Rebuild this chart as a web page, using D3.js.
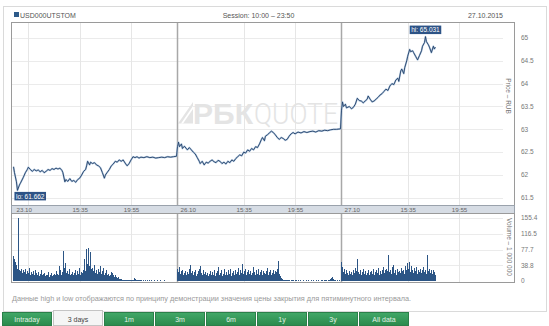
<!DOCTYPE html>
<html><head><meta charset="utf-8">
<script src="https://cdn.jsdelivr.net/npm/d3@7"></script>
<style>
html,body{margin:0;padding:0;background:#fff;}
svg{display:block;font-family:"Liberation Sans",Arial,sans-serif;}
</style></head><body>
<svg id="chart" width="549" height="326"></svg>
<script>
// Trading sessions (10:00 – 23:50 each)
const sessionDays = ["23.10", "26.10", "27.10"];
const gridTimes = [[0, "11:15"], [0, "15:35"], [0, "19:55"], [1, "15:35"], [1, "19:55"], [2, "15:35"], [2, "19:55"]];
const axisTimeLabels = ["15:35", "19:55"];
const priceTicks = [61.5, 62, 62.5, 63, 63.5, 64, 64.5, 65];
const volumeTicks = [0, 38.8, 77.7, 116.5, 155.4];
const tabs = ["Intraday", "3 days", "1m", "3m", "6m", "1y", "3y", "All data"];
const activeTab = "3 days";

// USD/RUB close price, 23.10
const price2310 = [
  ["10:00",62.18],["10:05",62.05],["10:15",61.85],["10:20",61.662],["10:30",61.78],["10:35",61.82],
  ["10:50",61.95],["11:00",62.05],["11:10",62.12],["11:15",62.17],["11:25",62.12],["11:35",62.08],
  ["11:45",62.12],["11:55",62.09],["12:05",62.11],["12:15",62.07],["12:25",62.10],["12:35",62.05],
  ["12:45",62.08],["12:55",62.12],["13:05",62.10],["13:15",62.14],["13:25",62.12],["13:35",62.15],
  ["13:45",62.13],["13:55",62.15],["14:05",62.10],["14:10",62.05],["14:20",61.85],["14:25",61.90],
  ["14:35",61.86],["14:45",61.92],["14:55",61.86],["15:05",61.88],["15:15",61.84],["15:25",61.90],
  ["15:35",61.93],["15:45",62.00],["15:55",62.08],["16:05",62.12],["16:10",62.20],["16:15",62.30],
  ["16:25",62.22],["16:30",62.28],["16:40",62.25],["16:50",62.27],["17:00",62.22],["17:10",62.20],
  ["17:20",62.16],["17:30",62.05],["17:40",61.93],["17:45",62.00],["17:55",62.06],["18:05",62.12],
  ["18:15",62.20],["18:25",62.24],["18:35",62.30],["18:45",62.28],["18:55",62.33],["19:05",62.30],
  ["19:15",62.33],["19:25",62.26],["19:35",62.20],["19:45",62.25],["19:55",62.33],["20:05",62.40],
  ["20:15",62.38],["20:25",62.40],["20:35",62.37],["20:45",62.39],["21:00",62.38],["21:15",62.40],
  ["21:30",62.38],["21:45",62.39],["22:00",62.37],["22:15",62.38],["22:30",62.39],["22:45",62.38],
  ["23:00",62.40],["23:15",62.39],["23:30",62.40],["23:45",62.41]
];
// 26.10
const price2610 = [
  ["10:00",62.62],["10:05",62.72],["10:10",62.62],["10:20",62.68],["10:25",62.58],["10:35",62.63],
  ["10:50",62.55],["11:00",62.60],["11:10",62.55],["11:20",62.50],["11:30",62.46],["11:40",62.38],
  ["11:50",62.30],["11:55",62.25],["12:05",62.30],["12:15",62.22],["12:25",62.28],["12:35",62.26],
  ["12:45",62.30],["12:55",62.33],["13:05",62.29],["13:15",62.27],["13:25",62.32],["13:35",62.30],
  ["13:45",62.25],["13:55",62.28],["14:05",62.24],["14:15",62.30],["14:25",62.27],["14:35",62.33],
  ["14:45",62.30],["14:55",62.36],["15:05",62.40],["15:15",62.44],["15:25",62.42],["15:35",62.50],
  ["15:45",62.48],["15:55",62.55],["16:05",62.52],["16:15",62.58],["16:25",62.55],["16:35",62.62],
  ["16:45",62.60],["16:55",62.68],["17:05",62.78],["17:10",62.82],["17:20",62.75],["17:25",62.85],
  ["17:35",62.88],["17:45",62.92],["17:55",62.96],["18:05",62.93],["18:15",62.88],["18:25",62.82],
  ["18:35",62.78],["18:45",62.82],["18:55",62.80],["19:05",62.76],["19:15",62.78],["19:25",62.85],
  ["19:35",62.90],["19:45",62.93],["19:55",62.90],["20:10",62.94],["20:25",62.92],["20:40",62.95],
  ["20:55",62.93],["21:10",62.95],["21:25",62.96],["21:40",62.94],["21:55",62.97],["22:10",62.96],
  ["22:25",62.98],["22:40",62.97],["22:55",62.99],["23:10",63.00],["23:25",63.00],["23:45",63.01]
];
// 27.10
const price2710 = [
  ["10:00",63.42],["10:05",63.60],["10:10",63.50],["10:20",63.55],["10:25",63.47],["10:40",63.50],
  ["10:50",63.45],["11:00",63.48],["11:10",63.55],["11:20",63.68],["11:30",63.63],["11:40",63.62],
  ["11:50",63.58],["12:00",63.62],["12:10",63.66],["12:15",63.73],["12:25",63.66],["12:35",63.60],
  ["12:45",63.62],["12:55",63.66],["13:05",63.70],["13:15",63.75],["13:25",63.78],["13:35",63.83],
  ["13:45",63.88],["13:55",63.85],["14:05",63.95],["14:15",64.00],["14:25",63.98],["14:35",64.08],
  ["14:45",64.12],["14:50",64.05],["15:00",64.28],["15:05",64.32],["15:15",64.22],["15:20",64.35],
  ["15:30",64.50],["15:35",64.60],["15:45",64.75],["15:50",64.70],["16:00",64.72],["16:05",64.68],
  ["16:15",64.60],["16:25",64.52],["16:35",64.62],["16:45",64.72],["16:50",64.82],["17:00",64.90],
  ["17:05",65.031],["17:10",64.92],["17:20",64.85],["17:25",64.80],["17:35",64.68],["17:45",64.82],
  ["17:50",64.76],["17:55",64.80]
];

// Five-minute volumes, millions USD, from 10:00 of each session
const volume2310 = [
  62,55,48,40,30,155.4,28,24,30,20, 26,22,30,17,24,20,33,16,22,18,
  24,14,28,20,16,22,12,18,26,14, 17,20,12,16,14,22,11,15,19,13,
  16,12,18,14,24,17,14,38,27,16, 22,74,32,45,20,24,17,30,14,18,
  22,16,20,27,14,24,18,32,16,22, 20,27,55,24,78,42,81,37,72,30,
  32,24,40,20,27,17,30,22,36,18, 24,32,16,20,27,14,18,12,16,22,
  20,14,10,15,9,7,11,5,4,6, 2.5,3.5,2,2.5,1.5,2.5,2,1.5,2.5,1.5,
  1.5,2.5,8,5,2.5,1.5,2,1.5,2.5,1.5, 1.5,1,1.5,1.2,1.5,1,1.5,1.1,2,1,
  1.5,1,1.2,1.5,1,1.1,1.5,1,1.2,1.5, 1,1.2,1,1.5,1,1.1,1,1.2,1,1,
  1.1,1,1.2,1,1,1
];
const volume2610 = [
  30,22,35,18,25,28,15,20,24,16, 22,18,30,40,20,25,15,22,28,12,
  18,24,30,36,20,14,26,18,22,15, 20,12,18,25,14,22,16,28,12,20,
  25,34,18,14,20,26,12,18,30,15, 22,14,26,18,30,12,20,24,16,28,
  18,22,32,15,26,20,43,18,24,30, 14,22,28,18,25,16,20,34,22,15,
  26,18,30,14,22,28,16,24,20,18, 25,32,16,22,28,14,20,26,18,24,
  22,30,50,18,12,8,4,3,2,3, 2,1.5,2,3,1,2,1.5,2,1,2,
  1.5,1,2,1,1.5,2,1,1,1.5,1, 1,2,1,1.5,1,1,2,1,1.5,1,
  1,1.5,1,2,1,1,1.5,3,1,2, 1.5,2,1,3,2,4,8,11,5,2,
  1.5,1,2,1,1.5,1
];
const volume2710 = [
  48,35,22,30,18,26,20,15,24,18, 22,16,28,20,32,25,55,22,18,26,
  15,22,30,18,24,14,20,28,16,22, 25,18,30,14,22,26,20,32,16,24,
  18,28,22,35,20,26,30,24,63,22, 28,18,34,40,20,26,16,30,22,25,
  20,32,24,28,18,36,26,45,30,48, 22,38,28,20,32,24,35,18,28,22,
  30,20,26,34,22,28,18,64,24,30, 20,26,18,28,22,16
];

const priceByDay = [price2310, price2610, price2710];
const volumeByDay = [volume2310, volume2610, volume2710];

const svg = d3.select("#chart");
const SESSION_MIN = 830; // 10:00 .. 23:50
const toMin = t => { const [h, m] = t.split(":").map(Number); return (h - 10) * 60 + m; };

const frame = { left: 11.5, right: 514.5, top: 22.5, bottom: 205.5 };
const band = { top: 205.5, bottom: 213.5 };
const vol = { top: 213.5, bottom: 282.5 };
const gridRight = 503;

const x = d3.scaleLinear().domain([0, SESSION_MIN * 3]).range([13.5, 505.5]);
const y = d3.scaleLinear().domain([61.5, 65]).range([197.8, 38]);
const yv = d3.scaleLinear().domain([0, 155.4]).range([281, 218]);

// Outer container
svg.append("rect").attr("x", 3.5).attr("y", 6.5).attr("width", 543).attr("height", 305)
  .attr("fill", "#fff").attr("stroke", "#dadada");

// Header
svg.append("rect").attr("x", 14).attr("y", 12).attr("width", 5).attr("height", 5).attr("fill", "#2d5a8a");
svg.append("text").attr("x", 20).attr("y", 17.5).attr("font-size", 7).attr("fill", "#555").text("USD000UTSTOM");
svg.append("text").attr("x", 258.5).attr("y", 17.5).attr("font-size", 7).attr("fill", "#555")
  .attr("text-anchor", "middle").text("Session: 10:00 – 23:50");
svg.append("text").attr("x", 503).attr("y", 17.5).attr("font-size", 7).attr("fill", "#555")
  .attr("text-anchor", "end").text("27.10.2015");

// Price grid
const g = svg.append("g");
g.selectAll("line.hgrid").data(priceTicks).join("line")
  .attr("x1", frame.left).attr("x2", gridRight)
  .attr("y1", d => Math.round(y(d)) + 0.5).attr("y2", d => Math.round(y(d)) + 0.5)
  .attr("stroke", "#ebebeb");
g.selectAll("line.vgridp").data(gridTimes).join("line")
  .attr("x1", d => Math.round(x(d[0] * SESSION_MIN + toMin(d[1]))) + 0.5)
  .attr("x2", d => Math.round(x(d[0] * SESSION_MIN + toMin(d[1]))) + 0.5)
  .attr("y1", frame.top).attr("y2", frame.bottom).attr("stroke", "#e6e6e6");

// Volume grid
g.selectAll("line.vh").data(volumeTicks.slice(1)).join("line")
  .attr("x1", frame.left).attr("x2", gridRight)
  .attr("y1", d => Math.round(yv(d)) + 0.5).attr("y2", d => Math.round(yv(d)) + 0.5)
  .attr("stroke", "#ebebeb");
g.selectAll("line.vgridv").data(gridTimes).join("line")
  .attr("x1", d => Math.round(x(d[0] * SESSION_MIN + toMin(d[1]))) + 0.5)
  .attr("x2", d => Math.round(x(d[0] * SESSION_MIN + toMin(d[1]))) + 0.5)
  .attr("y1", vol.top).attr("y2", vol.bottom).attr("stroke", "#e6e6e6");

// Watermark
const wm = svg.append("g").attr("fill", "#e4e4e4");
wm.append("polygon").attr("points", "178,123.5 193,102 193,123.5");
wm.append("polygon").attr("points", "181,123.5 193,106 193,109 183,123.5").attr("fill", "#fff");
wm.append("text").attr("x", 193).attr("y", 123.5).attr("font-size", 29).attr("font-weight", 700)
  .attr("textLength", 60).attr("lengthAdjust", "spacingAndGlyphs").text("РБК");
wm.append("text").attr("x", 254).attr("y", 123.5).attr("font-size", 29).attr("font-weight", 300)
  .attr("font-family", "Roboto, sans-serif")
  .attr("textLength", 84).attr("lengthAdjust", "spacingAndGlyphs").text("QUOTE");

// Day separators
svg.selectAll("line.sep").data([1, 2]).join("line")
  .attr("x1", d => x(d * SESSION_MIN)).attr("x2", d => x(d * SESSION_MIN))
  .attr("y1", frame.top).attr("y2", vol.bottom)
  .attr("stroke", "#a8a8a8").attr("stroke-width", 1.5);

// Volume bars
const vData = [];
volumeByDay.forEach((arr, d) => arr.forEach((v, i) => vData.push({ t: d * SESSION_MIN + i * 5, v })));
svg.append("g").attr("shape-rendering", "crispEdges").selectAll("rect").data(vData).join("rect")
  .attr("x", d => Math.floor(x(d.t))).attr("width", 1)
  .attr("y", d => yv(d.v)).attr("height", d => yv(0) - yv(d.v))
  .attr("fill", "#2c5585");

// Price line
const pData = [];
priceByDay.forEach((arr, d) => arr.forEach(p => pData.push({ t: d * SESSION_MIN + toMin(p[0]), v: p[1] })));
const line = d3.line().x(d => x(d.t)).y(d => y(d.v));
svg.append("path").datum(pData).attr("d", line).attr("fill", "none")
  .attr("stroke", "#b4c9e0").attr("stroke-width", 1.8).attr("stroke-linejoin", "round");
svg.append("path").datum(pData).attr("d", line).attr("fill", "none")
  .attr("stroke", "#213f68").attr("stroke-width", 0.9).attr("stroke-linejoin", "round");

// Frames
svg.append("rect").attr("x", frame.left).attr("y", frame.top)
  .attr("width", frame.right - frame.left).attr("height", frame.bottom - frame.top)
  .attr("fill", "none").attr("stroke", "#9a9a9a");
svg.append("rect").attr("x", frame.left).attr("y", band.top)
  .attr("width", frame.right - frame.left).attr("height", band.bottom - band.top)
  .attr("fill", "#d6dce4").attr("stroke", "#9aa2ac");
svg.append("rect").attr("x", frame.left).attr("y", vol.top)
  .attr("width", frame.right - frame.left).attr("height", vol.bottom - vol.top)
  .attr("fill", "none").attr("stroke", "#9a9a9a");

// Time axis labels in band
const bandLabels = [];
sessionDays.forEach((day, d) => {
  bandLabels.push({ x: x(d * SESSION_MIN) + 3, text: day, anchor: "start" });
  axisTimeLabels.forEach(t => bandLabels.push({ x: x(d * SESSION_MIN + toMin(t)) + 0.5, text: t, anchor: "middle" }));
});
svg.append("g").selectAll("text").data(bandLabels).join("text")
  .attr("x", d => d.x).attr("y", 211.8).attr("text-anchor", d => d.anchor)
  .attr("font-size", 6.2).attr("fill", "#666").text(d => d.text);

// Right axes
svg.append("g").selectAll("text").data(priceTicks).join("text")
  .attr("x", 521).attr("y", d => y(d) + 2.3).attr("font-size", 6.5).attr("fill", "#777")
  .text(d => d3.format("")(d));
svg.append("g").selectAll("text").data(volumeTicks).join("text")
  .attr("x", 521).attr("y", d => yv(d) + 2.3).attr("font-size", 6.5).attr("fill", "#777")
  .text(d => d);
svg.append("text").attr("transform", "translate(506,96) rotate(90)").attr("text-anchor", "middle")
  .attr("font-size", 6.5).attr("fill", "#777").text("Price – RUB");
svg.append("text").attr("transform", "translate(507,247) rotate(90)").attr("text-anchor", "middle")
  .attr("font-size", 6.5).attr("fill", "#777").text("Volume – 1 000 000");

// hi / lo markers
const hi = d3.greatest(pData, d => d.v);
const lo = d3.least(pData, d => d.v);
function tag(pt, label, below) {
  const gx = svg.append("g");
  const t = gx.append("text").attr("font-size", 6.5).attr("fill", "#fff").text(label);
  const w = t.node().getComputedTextLength() + 3;
  const bx = below ? x(pt.t) - 3 : x(pt.t) - w / 2;
  const by = below ? y(pt.v) + 1.5 : y(pt.v) - 11;
  gx.insert("rect", "text").attr("x", bx).attr("y", by).attr("width", w).attr("height", 8.5).attr("fill", "#2d5386");
  t.attr("x", bx + 1.5).attr("y", by + 6.8);
}
tag(hi, "hi: " + d3.format(".3f")(hi.v), false);
tag(lo, "lo: " + d3.format(".3f")(lo.v), true);

// Footnote
svg.append("text").attr("x", 12).attr("y", 301).attr("font-size", 7.3).attr("fill", "#9a9a9a")
  .text("Данные high и low отображаются по принципу демонстрации значения цены закрытия для пятиминутного интервала.");

// Period tabs
const defs = svg.append("defs");
const grad = defs.append("linearGradient").attr("id", "tabGreen").attr("x1", 0).attr("x2", 0).attr("y1", 0).attr("y2", 1);
grad.append("stop").attr("offset", 0).attr("stop-color", "#42a868");
grad.append("stop").attr("offset", 1).attr("stop-color", "#2a8a4c");
const tg = svg.append("g").selectAll("g").data(tabs).join("g")
  .attr("transform", (d, i) => `translate(${2.5 + i * 51},0)`);
tg.append("rect").attr("x", 0).attr("width", 49)
  .attr("y", d => d === activeTab ? 310.5 : 312.5).attr("height", d => d === activeTab ? 15 : 13)
  .attr("fill", d => d === activeTab ? "#f5f5f5" : "url(#tabGreen)")
  .attr("stroke", d => d === activeTab ? "#c4c4c4" : "#2b7f49");
tg.append("text").attr("x", 24.5).attr("y", 321.5).attr("text-anchor", "middle").attr("font-size", 7)
  .attr("fill", d => d === activeTab ? "#444" : "#e2f2e6").text(d => d);
</script>
</body></html>
